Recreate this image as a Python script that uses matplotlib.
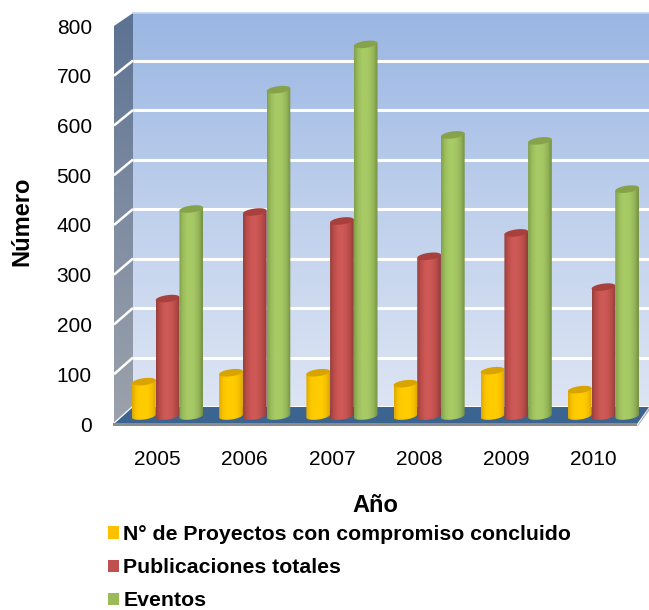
import numpy as np
import matplotlib
matplotlib.use("Agg")
import matplotlib.pyplot as plt
from matplotlib.colors import LinearSegmentedColormap
from matplotlib.patches import Patch, Polygon

years = ["2005", "2006", "2007", "2008", "2009", "2010"]
proyectos = [69, 87, 87, 65, 91, 53]
publicaciones = [236, 410, 392, 321, 368, 259]
eventos = [416, 656, 747, 565, 553, 456]
series_names = ["N° de Proyectos con compromiso concluido", "Publicaciones totales", "Eventos"]
y_ticks = [0, 100, 200, 300, 400, 500, 600, 700, 800]

W, H = 649, 610
plt.rcParams["font.family"] = ["Liberation Sans", "DejaVu Sans"]
fig = plt.figure(figsize=(W / 100, H / 100), dpi=100)


def axes_px(x0, y0, x1, y1, **kw):
    return fig.add_axes([x0 / W, 1 - y1 / H, (x1 - x0) / W, (y1 - y0) / H], **kw)


# Background layer in pixel units: walls and floor
bg = fig.add_axes([0, 0, 1, 1])
bg.set_xlim(0, W)
bg.set_ylim(H, 0)
bg.axis("off")


def gradient(ax, pts, colors):
    cmap = LinearSegmentedColormap.from_list("g", colors)
    pts = np.array(pts, float)
    xmin, xmax, ymin, ymax = pts[:, 0].min(), pts[:, 0].max(), pts[:, 1].min(), pts[:, 1].max()
    g = np.linspace(0, 1, 256).reshape(-1, 1)
    im = ax.imshow(g, extent=(xmin, xmax, ymax, ymin), cmap=cmap, aspect="auto",
                   origin="upper", interpolation="bilinear", zorder=1)
    im.set_clip_path(Polygon(pts, transform=ax.transData))


back_l, back_r, back_t, back_b = 133, 649, 11, 407
wall_t = 13
front_l, front_r, front_t, front_b = 114, 637, 26, 424
gradient(bg, [(back_l, wall_t), (back_r, wall_t), (back_r, back_b), (back_l, back_b)],
         ["#9AB6E3", "#BFD0EC", "#DDE5F4"])
gradient(bg, [(front_l, front_t), (back_l, wall_t), (back_l, back_b), (front_l, front_b)],
         ["#5C7292", "#7F8DA2", "#9CA2AC"])
bg.add_patch(Polygon([(front_l, front_b), (front_r, front_b), (back_r, back_b), (back_l, back_b)],
                     fc="#3C6491", ec="none", zorder=2))
bg.add_patch(Polygon([(front_l - 1, front_b - 1), (front_r, front_b - 1), (front_r, front_b + 2), (front_l - 1, front_b + 2)],
                     fc="#8C8C8C", ec="none", zorder=3))
bg.add_patch(Polygon([(front_r, front_b + 2), (back_r, back_b + 1), (back_r, back_b + 4), (front_r + 1, front_b + 2)],
                     fc="#B0B0B0", ec="none", zorder=3))
bg.set_xlim(0, W)
bg.set_ylim(H, 0)

# Front axes: carries the scale, tick labels and titles
front = axes_px(front_l, front_t, front_r, front_b)
front.patch.set_alpha(0)
front.set_xlim(-0.5, 5.5)
front.set_ylim(0, 800)
front.set_xticks(range(len(years)), years)
front.set_yticks(y_ticks)
front.tick_params(length=0, labelsize=15, colors="black")
front.tick_params(axis="x", pad=19)
front.tick_params(axis="y", pad=16)
front.set_ylabel("Número", fontsize=17, fontweight="bold", va="center")
front.set_xlabel("Año", fontsize=17, fontweight="bold", va="center")
front.yaxis.set_label_coords((22 - front_l) / (front_r - front_l),
                             1 - (221 - front_t) / (front_b - front_t))
front.xaxis.set_label_coords((375 - front_l) / (front_r - front_l),
                             -(506 - front_b) / (front_b - front_t))
for s in front.spines.values():
    s.set_visible(False)

# Gridlines: back wall and side wall, located by the tick values
back_scale = (back_b - back_t) / 800
front_scale = (front_b - front_t) / 800
for v in y_ticks[:-1]:
    yb = back_b - v * back_scale
    yf = front_b - v * front_scale
    bg.plot([back_l, back_r], [yb, yb], color="white", lw=2.2, zorder=1.5, solid_capstyle="butt")
    bg.plot([front_l, back_l], [yf, yb], color="white", lw=1.8, zorder=1.5, solid_capstyle="butt")
bg.plot([back_l, back_r], [wall_t, wall_t], color="#C5D4EE", lw=1.2, zorder=1.5)

# Bars axes: same scale, shifted to the middle of the floor depth; extended below zero
# so that the rounded cylinder bases are not cut
below = 12
unit_y = 800 / (front_b - front_t)  # value units per pixel
bars = axes_px(front_l + 10, front_t - 8, front_r + 10, front_b - 8 + below)
bars.patch.set_alpha(0)
bars.axis("off")
bars.set_xlim(-0.5, 5.5)
bars.set_ylim(-below * unit_y, 800)

bar_w = 0.272
ry = 3.5 * unit_y
tilt = 1.5 * unit_y
palette = [
    (["#E0A800", "#F8C400", "#FFCC00", "#FFCC00", "#FFCC00", "#F5BF00", "#DDA400"], "#D9A300"),
    (["#96403D", "#BC4D4A", "#CC5855", "#CF5A57", "#C85552", "#B54A47", "#8E3B39"], "#A8403D"),
    (["#829F4C", "#9BBD5C", "#A8CB66", "#A8CB66", "#A2C462", "#93B356", "#748F44"], "#86A34B"),
]


def draw_cyl(ax, xc, val, colors, top_color, z):
    t = np.linspace(0, np.pi, 40)
    ex = bar_w / 2 * np.cos(t)
    slope = tilt / (bar_w / 2)
    top = np.column_stack([xc + ex, val + ry * np.sin(t) + slope * ex])
    top2 = np.column_stack([xc - ex, val - ry * np.sin(t) - slope * ex])
    low = np.column_stack([xc - ex, 0 - ry * np.sin(t) - slope * ex])
    corners = np.column_stack([xc + ex, val + slope * ex])[[0, -1]]
    body = np.vstack([corners, low])
    cmap = LinearSegmentedColormap.from_list("c", colors)
    g = np.linspace(0, 1, 128).reshape(1, -1)
    im = ax.imshow(g, extent=(xc - bar_w / 2, xc + bar_w / 2, -ry - tilt, val + ry + tilt),
                   cmap=cmap, aspect="auto", zorder=z, interpolation="bilinear")
    im.set_clip_path(Polygon(body, transform=ax.transData))
    ax.add_patch(Polygon(np.vstack([top, top2]), fc=top_color, ec="none", zorder=z + 0.1))


for i, vals in enumerate([proyectos, publicaciones, eventos]):
    for k, v in enumerate(vals):
        draw_cyl(bars, k + (i - 1) * bar_w, v, palette[i][0], palette[i][1], 2 + i)
bars.set_xlim(-0.5, 5.5)
bars.set_ylim(-below * unit_y, 800)

handles = [Patch(fc=c, ec="none") for c in ["#FFC000", "#C0504D", "#9BBB59"]]
fig.legend(handles, series_names, loc="upper left", bbox_to_anchor=(108 / W, 1 - 525 / H),
           frameon=False, prop={"size": 15.3, "weight": "bold"}, handlelength=0.52,
           handleheight=0.52, handletextpad=0.2, labelspacing=0.67, borderpad=0, borderaxespad=0)
fig.savefig("out.png", dpi=100)
